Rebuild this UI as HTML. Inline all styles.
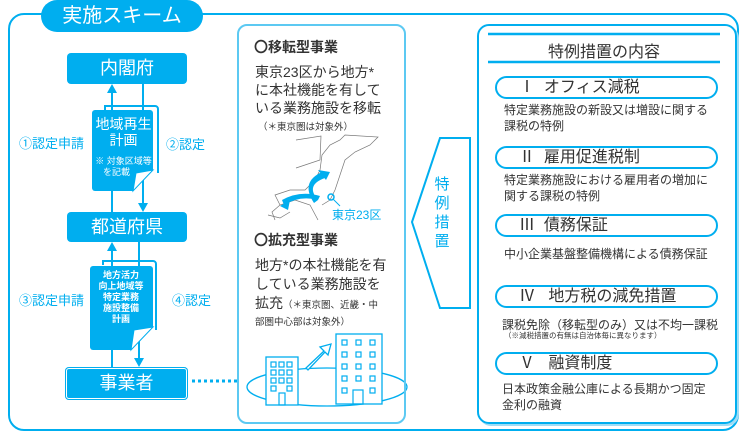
<!DOCTYPE html>
<html><head><meta charset="utf-8"><style>
*{margin:0;padding:0;box-sizing:border-box}
body{width:743px;height:434px;background:#fff;position:relative;overflow:hidden;font-family:"Liberation Sans","Noto Sans CJK JP",sans-serif;color:#333}
.a{position:absolute;white-space:nowrap}
.bx{position:absolute;background:#00aeef;color:#fff;border-radius:4px;text-align:center}
.lbl{position:absolute;color:#00aeef;font-size:13px;white-space:nowrap}
.pill{position:absolute;left:495px;width:223px;height:23px;border:2.5px solid #00aeef;border-radius:12px;font-size:16px;line-height:17px;padding-left:22px;padding-top:1px;color:#333}
.d{position:absolute;left:504px;font-size:12px;line-height:16px;color:#333;white-space:nowrap}
</style></head><body>
<div class="a" style="left:8px;top:13px;width:731px;height:418px;border:2px solid #00aeef;border-radius:16px"></div>
<div class="a" style="left:41px;top:0;width:162px;height:32px;background:#00aeef;border-radius:16px;color:#fff;font-size:20px;line-height:32px;text-align:center">実施スキーム</div>

<div class="bx" style="left:67px;top:53px;width:120px;height:31px;font-size:18px;line-height:31px">内閣府</div>
<div class="bx" style="left:67px;top:212px;width:120px;height:30px;font-size:18px;line-height:30px">都道府県</div>
<div class="bx" style="left:65px;top:367px;width:123px;height:33px;font-size:18px;line-height:33px;box-shadow:inset 0 0 0 1px #00aeef,inset 0 0 0 2px #fff">事業者</div>

<svg class="a" style="left:0;top:0" width="743" height="434">
<g stroke="#00aeef" stroke-width="2" fill="none">
<line x1="112" y1="367" x2="112" y2="248"/>
<line x1="112" y1="212" x2="112" y2="90"/>
<line x1="143" y1="84" x2="143" y2="206"/>
<line x1="139" y1="242" x2="139" y2="361"/>
<path d="M105 110 V106 H155 a3 3 0 0 1 3 3 V173"/>
<path d="M103 265 V261 H153 a3 3 0 0 1 3 3 V330"/>
</g>
<g fill="#00aeef">
<polygon points="112,84 107,93 117,93"/>
<polygon points="143,212 138,203 148,203"/>
<polygon points="112,242 107,251 117,251"/>
<polygon points="139,367 134,358 144,358"/>
<path d="M95 110 H150 a3 3 0 0 1 3 3 V170 L133 191 H95 a3 3 0 0 1 -3 -3 V113 a3 3 0 0 1 3 -3Z"/>
<path d="M93 266 H150 a3 3 0 0 1 3 3 V327 L131 350 H93 a3 3 0 0 1 -3 -3 V269 a3 3 0 0 1 3 -3Z"/>
</g>
<path d="M153 170 L133 191 L136 173Z" fill="#fff" stroke="#00aeef" stroke-width="1"/>
<path d="M153 327 L131 350 L134 330Z" fill="#fff" stroke="#00aeef" stroke-width="1"/>
<line x1="192" y1="381" x2="238" y2="381" stroke="#00aeef" stroke-width="3" stroke-dasharray="3,3"/>
<polygon points="470,138 440,138 412,222 440,308 470,308" fill="#fff" stroke="#00aeef" stroke-width="2"/>
<g stroke="#777" stroke-width="0.7" fill="none">
<path d="M318 220 L310 205 L295 200 L280 205 L272 212 L275 220 M280 205 L275 195 L290 190 L305 190 L315 180 L320 170 L322 155 L330 145 L340 140 L345 135 L378 137 L370 145 L355 152 L345 160 L340 175 L335 190 L330 200 L322 205"/>
<path d="M296 140 L321 136 L320 160 L296 168"/>
<path d="M268 215 L280 218 L290 212"/>
</g>
<g fill="#00aeef">
<path d="M325 178 Q305 185 318 200 L314 203 Q300 182 322 172Z"/>
<polygon points="330,172 318,170 326,180"/>
<path d="M318 200 Q300 195 284 205 L282 200 Q300 190 320 196Z"/>
<polygon points="280,206 290,200 288,210"/>
</g>
<circle cx="331" cy="197" r="3" fill="none" stroke="#00aeef" stroke-width="1.5"/>
<line x1="333" y1="199" x2="340" y2="206" stroke="#00aeef" stroke-width="1"/>
<ellipse cx="327" cy="387" rx="80" ry="19" fill="none" stroke="#00aeef" stroke-width="1.3"/>
<g fill="#fff" stroke="#00aeef" stroke-width="1.3">
<rect x="266" y="357" width="32" height="48"/>
<rect x="336" y="334" width="46" height="70"/>
<path d="M306 368 L324 351 L320 347 L331 344 L328 355 L325 352 L308 370Z"/>
</g>
<g fill="none" stroke="#00aeef" stroke-width="1.2">
<rect x="271" y="362" width="5" height="5"/><rect x="279" y="362" width="5" height="5"/><rect x="287" y="362" width="5" height="5"/>
<rect x="271" y="370" width="5" height="5"/><rect x="279" y="370" width="5" height="5"/><rect x="287" y="370" width="5" height="5"/>
<rect x="271" y="378" width="5" height="5"/><rect x="279" y="378" width="5" height="5"/><rect x="287" y="378" width="5" height="5"/>
<rect x="271" y="386" width="5" height="5"/><rect x="287" y="386" width="5" height="5"/><rect x="279" y="393" width="6" height="12"/>
<rect x="342" y="340" width="5" height="5"/><rect x="356" y="340" width="5" height="5"/><rect x="370" y="340" width="5" height="5"/>
<rect x="342" y="352" width="5" height="5"/><rect x="356" y="352" width="5" height="5"/><rect x="370" y="352" width="5" height="5"/>
<rect x="342" y="364" width="5" height="5"/><rect x="356" y="364" width="5" height="5"/><rect x="370" y="364" width="5" height="5"/>
<rect x="342" y="376" width="5" height="5"/><rect x="356" y="376" width="5" height="5"/><rect x="370" y="376" width="5" height="5"/>
<rect x="342" y="388" width="5" height="5"/><rect x="370" y="388" width="5" height="5"/><rect x="353" y="390" width="10" height="14"/>
</g>
<line x1="488" y1="34" x2="720" y2="34" stroke="#00aeef" stroke-width="2.5"/>
<line x1="488" y1="62" x2="720" y2="62" stroke="#00aeef" stroke-width="2.5"/>
</svg>

<div class="a" style="left:92px;top:116px;width:63px;text-align:center;color:#fff;font-size:14px;line-height:16px">地域再生<br>計画</div>
<div class="a" style="left:92px;top:156px;width:63px;text-align:center;color:#fff;font-size:9px;line-height:11px">※ 対象区域等<br><span style="margin-right:14px">を記載</span></div>
<div class="a" style="left:90px;top:270px;width:62px;text-align:center;color:#fff;font-size:9px;line-height:11px;font-weight:bold">地方活力<br>向上地域等<br>特定業務<br>施設整備<br>計画</div>

<div class="lbl" style="left:19px;top:133px">①認定申請</div>
<div class="lbl" style="left:166px;top:134px">②認定</div>
<div class="lbl" style="left:19px;top:290px">③認定申請</div>
<div class="lbl" style="left:172px;top:290px">④認定</div>

<div class="a" style="left:237px;top:24px;width:169px;height:400px;border:2px solid #5cc9f2;border-radius:10px"></div>
<div class="a" style="left:254px;top:37px;font-size:14px;font-weight:bold">〇移転型事業</div>
<div class="a" style="left:255px;top:63px;font-size:14px;line-height:18px">東京23区から地方*<br>に本社機能を有して<br>いる業務施設を移転</div>
<div class="a" style="left:258px;top:119px;font-size:9.5px">（＊東京圏は対象外）</div>
<div class="a" style="left:332px;top:206px;font-size:12px;color:#00aeef">東京23区</div>
<div class="a" style="left:254px;top:230px;font-size:14px;font-weight:bold">〇拡充型事業</div>
<div class="a" style="left:255px;top:256px;font-size:14px;line-height:19px">地方*の本社機能を有<br>している業務施設を<br>拡充<span style="font-size:9.5px">（＊東京圏、近畿・中</span></div>
<div class="a" style="left:255px;top:314px;font-size:9.5px">部圏中心部は対象外）</div>

<div class="a" style="left:433px;top:175px;width:18px;font-size:15px;line-height:19px;color:#00aeef;text-align:center;white-space:normal">特例措置</div>

<div class="a" style="left:477px;top:24px;width:260px;height:400px;border:2px solid #00aeef;border-radius:12px;box-shadow:2px 2px 0 #9fdcf5"></div>
<div class="a" style="left:488px;top:38px;width:232px;text-align:center;font-size:16px">特例措置の内容</div>

<div class="pill" style="top:76px">Ⅰ&nbsp; オフィス減税</div>
<div class="d" style="top:102px">特定業務施設の新設又は増設に関する<br>課税の特例</div>
<div class="pill" style="top:146px">Ⅱ&nbsp; 雇用促進税制</div>
<div class="d" style="top:172px">特定業務施設における雇用者の増加に<br>関する課税の特例</div>
<div class="pill" style="top:214px">Ⅲ&nbsp; 債務保証</div>
<div class="d" style="top:246px">中小企業基盤整備機構による債務保証</div>
<div class="pill" style="top:285px">Ⅳ&nbsp;&nbsp; 地方税の減免措置</div>
<div class="d" style="left:502px;top:317px">課税免除（移転型のみ）又は不均一課税</div>
<div class="d" style="left:504px;top:331px;font-size:7.5px;line-height:10px">（※減税措置の有無は自治体毎に異なります）</div>
<div class="pill" style="top:352px">Ⅴ&nbsp;&nbsp; 融資制度</div>
<div class="d" style="left:502px;top:381px">日本政策金融公庫による長期かつ固定<br>金利の融資</div>
</body></html>
